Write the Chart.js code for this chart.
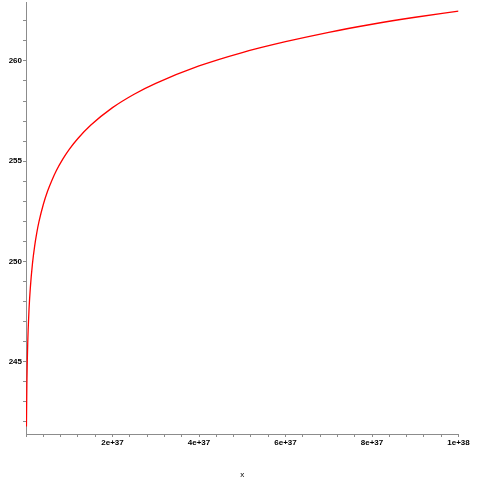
<!DOCTYPE html>
<html>
<head>
<meta charset="utf-8">
<script src="https://cdn.jsdelivr.net/npm/chart.js@4/dist/chart.umd.min.js"></script>
<style>
  html, body { margin: 0; padding: 0; background: #fff; }
  #wrap { width: 480px; height: 480px; position: relative; }
</style>
</head>
<body>
<div id="wrap"><canvas id="plot"></canvas></div>
<script>
// values (x, curve height)
const xValues = [1e35, 2e35, 3e35, 4e35, 5e35, 7e35, 1e36, 1.5e36, 2e36, 2.5e36, 3e36, 4e36, 5e36,
  6e36, 7e36, 8.5e36, 1e37, 1.2e37, 1.5e37, 2e37, 2.5e37, 3e37, 4e37, 5e37, 6e37, 7e37, 8e37, 9e37, 1e38];
const yValues = [241.77, 243.85, 245.07, 245.93, 246.60, 247.61, 248.68, 249.90, 250.76, 251.43, 251.98, 252.84, 253.51,
  254.05, 254.52, 255.10, 255.59, 256.13, 256.80, 257.67, 258.34, 258.88, 259.75, 260.42, 260.96, 261.43, 261.83, 262.18, 262.49];

const xRange = [0, 1e38];
const yRange = [241.39, 262.94];
const xMajor = [2e37, 4e37, 6e37, 8e37, 1e38];
const xMajorLabels = ['2e+37', '4e+37', '6e+37', '8e+37', '1e+38'];
const yMajor = [245, 250, 255, 260];

const points = xValues.map((x, i) => ({ x, y: yValues[i] }));
const axisGrey = '#8c8c8c';
const tickFont = { family: 'Liberation Sans', size: 8, weight: 'bold' };

new Chart(document.getElementById('plot'), {
  type: 'line',
  data: {
    datasets: [{
      data: points,
      borderColor: '#ff0000',
      borderWidth: 1.3,
      pointRadius: 0,
      fill: false,
      cubicInterpolationMode: 'monotone'
    }]
  },
  options: {
    responsive: true,
    maintainAspectRatio: false,
    animation: false,
    layout: { padding: { top: 2, right: 21.5, left: 0, bottom: 0 } },
    plugins: { legend: { display: false }, tooltip: { enabled: false } },
    scales: {
      x: {
        type: 'linear',
        min: xRange[0],
        max: xRange[1],
        afterFit: s => { s.height = 46; s.paddingLeft = 0; s.paddingRight = 0; },
        border: { color: axisGrey, width: 1 },
        grid: { drawOnChartArea: false, drawTicks: true, tickLength: 3, color: axisGrey },
        ticks: {
          stepSize: 4e36,
          maxTicksLimit: 1000,
          autoSkip: false,
          maxRotation: 0,
          minRotation: 0,
          includeBounds: false,
          padding: 1,
          color: '#000',
          font: tickFont,
          callback: v => {
            const i = xMajor.findIndex(m => Math.abs(m - v) < 1e30);
            return i >= 0 ? xMajorLabels[i] : '';
          }
        },
        title: { display: true, text: 'x', color: '#000', font: { family: 'Liberation Sans', size: 8 }, padding: 0 }
      },
      y: {
        type: 'linear',
        min: yRange[0],
        max: yRange[1],
        afterFit: s => { s.width = 26; s.paddingTop = 0; s.paddingBottom = 0; },
        border: { color: axisGrey, width: 1 },
        grid: { drawOnChartArea: false, drawTicks: true, tickLength: 3, color: axisGrey },
        ticks: {
          stepSize: 1,
          maxTicksLimit: 1000,
          autoSkip: false,
          includeBounds: false,
          padding: 1,
          color: '#000',
          font: tickFont,
          callback: v => yMajor.some(m => Math.abs(m - v) < 1e-6) ? String(Math.round(v)) : ''
        }
      }
    }
  }
});
</script>
</body>
</html>
